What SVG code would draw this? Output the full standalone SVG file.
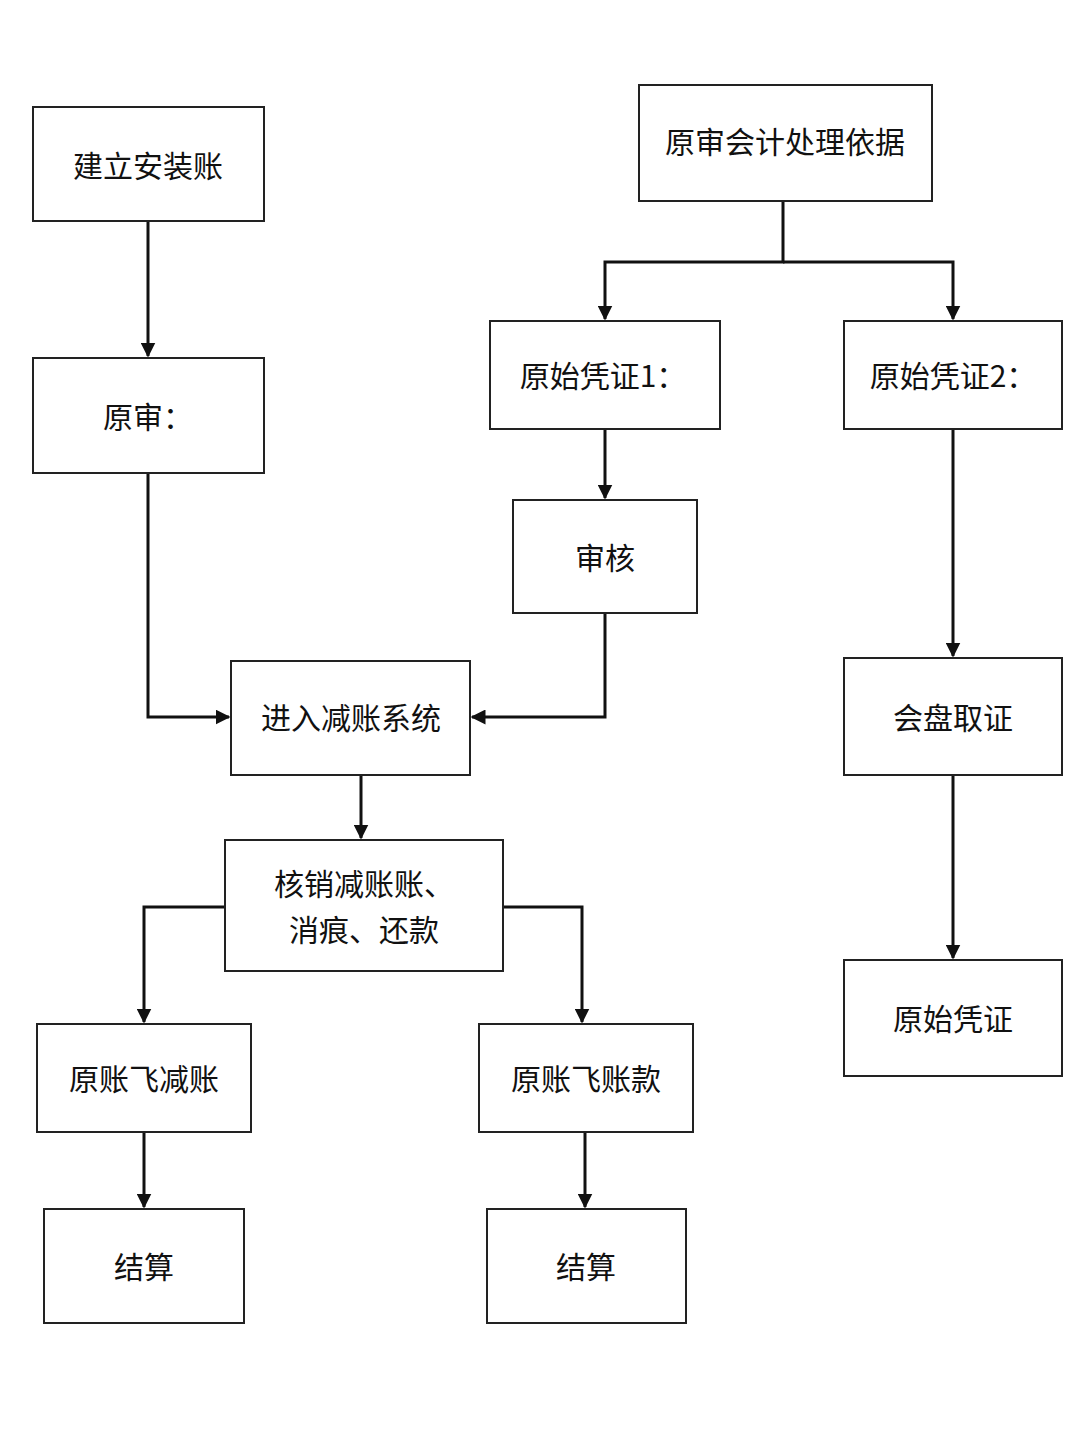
<svg xmlns="http://www.w3.org/2000/svg" width="1086" height="1448" viewBox="0 0 1086 1448">
<style>
.b{fill:#fff;stroke:#222;stroke-width:2}
.t{font-family:"Noto Sans CJK SC","Noto Sans",sans-serif;font-size:30px;fill:#111;text-anchor:middle;dominant-baseline:central}
.c{fill:none;stroke:#111;stroke-width:3}
</style>
<defs><marker id="a" viewBox="0 0 10 10" refX="9" refY="5" markerWidth="5" markerHeight="5" orient="auto"><path d="M0,0L10,5L0,10z" fill="#111"/></marker></defs>
<rect width="1086" height="1448" fill="#fff"/>
<g id="connectors">
<path class="c" d="M148,221V356" marker-end="url(#a)"/>
<path class="c" d="M783,201V262H605V319" marker-end="url(#a)"/>
<path class="c" d="M783,262H953V319" marker-end="url(#a)"/>
<path class="c" d="M605,429V498" marker-end="url(#a)"/>
<path class="c" d="M148,473V717H229" marker-end="url(#a)"/>
<path class="c" d="M605,613V717H472" marker-end="url(#a)"/>
<path class="c" d="M953,429V656" marker-end="url(#a)"/>
<path class="c" d="M361,775V838" marker-end="url(#a)"/>
<path class="c" d="M953,775V958" marker-end="url(#a)"/>
<path class="c" d="M225,907H144V1022" marker-end="url(#a)"/>
<path class="c" d="M503,907H582V1022" marker-end="url(#a)"/>
<path class="c" d="M144,1132V1207" marker-end="url(#a)"/>
<path class="c" d="M585,1132V1207" marker-end="url(#a)"/>
</g>
<g id="n1"><rect class="b" x="33" y="107" width="231" height="114"/><text class="t" x="148" y="164">建立安装账</text></g>
<g id="n2"><rect class="b" x="33" y="358" width="231" height="115"/><text class="t" x="148" y="415">原审：</text></g>
<g id="n3"><rect class="b" x="639" y="85" width="293" height="116"/><text class="t" x="785" y="140">原审会计处理依据</text></g>
<g id="n4"><rect class="b" x="490" y="321" width="230" height="108"/><text class="t" x="603" y="374">原始凭证1：</text></g>
<g id="n5"><rect class="b" x="844" y="321" width="218" height="108"/><text class="t" x="953" y="374">原始凭证2：</text></g>
<g id="n6"><rect class="b" x="513" y="500" width="184" height="113"/><text class="t" x="605" y="556">审核</text></g>
<g id="n7"><rect class="b" x="231" y="661" width="239" height="114"/><text class="t" x="351" y="716">进入减账系统</text></g>
<g id="n8"><rect class="b" x="844" y="658" width="218" height="117"/><text class="t" x="953" y="716">会盘取证</text></g>
<g id="n9"><rect class="b" x="225" y="840" width="278" height="131"/><text class="t" x="364" y="882">核销减账账、</text><text class="t" x="364" y="928">消痕、还款</text></g>
<g id="n10"><rect class="b" x="844" y="960" width="218" height="116"/><text class="t" x="953" y="1017">原始凭证</text></g>
<g id="n11"><rect class="b" x="37" y="1024" width="214" height="108"/><text class="t" x="144" y="1077">原账飞减账</text></g>
<g id="n12"><rect class="b" x="479" y="1024" width="214" height="108"/><text class="t" x="586" y="1077">原账飞账款</text></g>
<g id="n13"><rect class="b" x="44" y="1209" width="200" height="114"/><text class="t" x="144" y="1265">结算</text></g>
<g id="n14"><rect class="b" x="487" y="1209" width="199" height="114"/><text class="t" x="586" y="1265">结算</text></g>
</svg>
